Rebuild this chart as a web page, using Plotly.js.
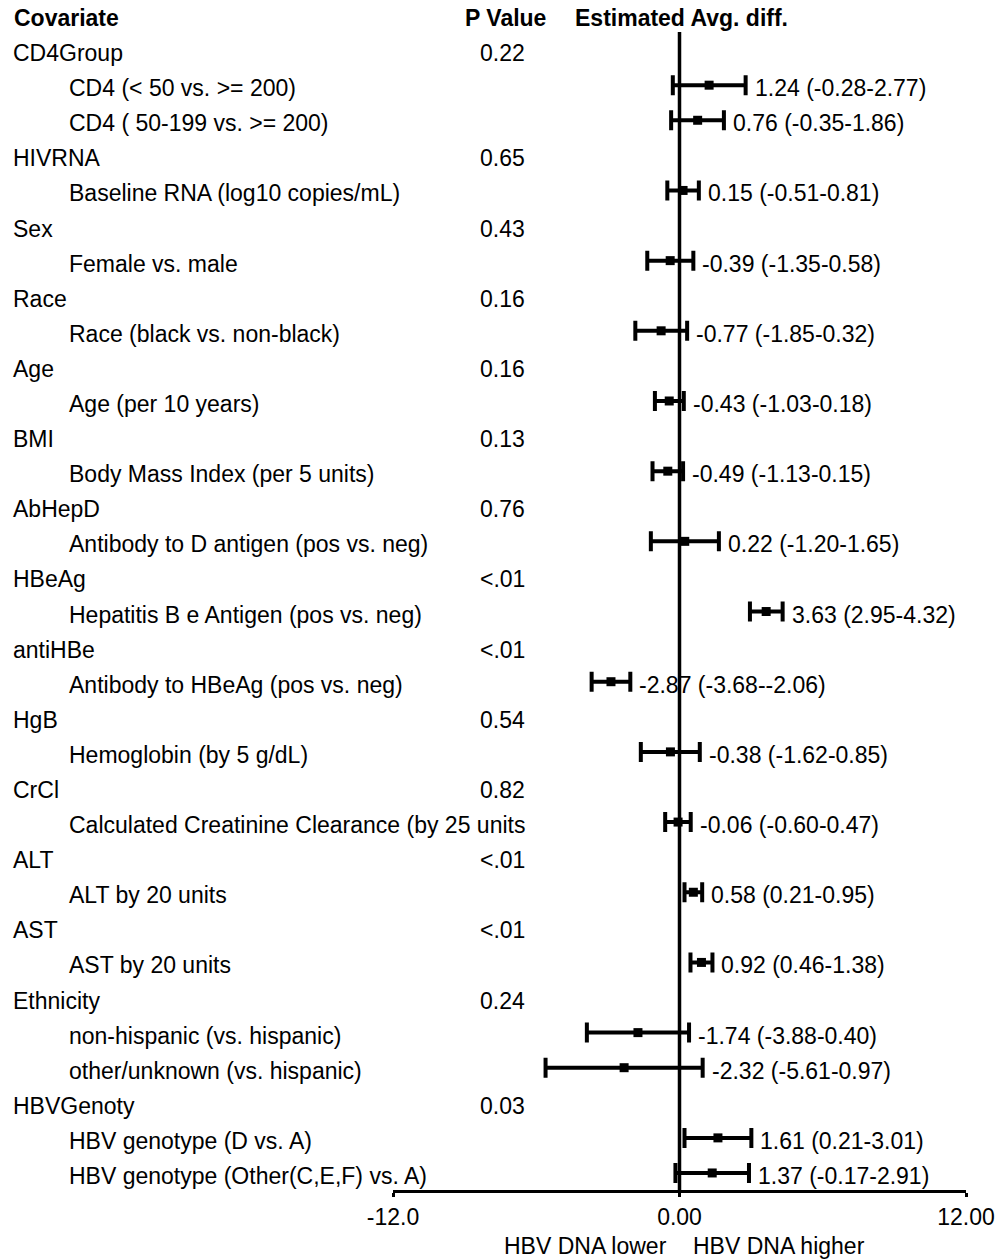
<!DOCTYPE html>
<html>
<head>
<meta charset="utf-8">
<script src="https://cdn.plot.ly/plotly-3.0.1.min.js"></script>
<style>html,body{margin:0;padding:0;background:#fff;}#chart{width:1000px;height:1259px;}</style>
</head>
<body>
<div id="chart"></div>
<script>
// ---- data ----
var rowLabels = [
  "CD4Group", "CD4 (< 50 vs. >= 200)", "CD4 ( 50-199 vs. >= 200)",
  "HIVRNA", "Baseline RNA (log10 copies/mL)",
  "Sex", "Female vs. male",
  "Race", "Race (black vs. non-black)",
  "Age", "Age (per 10 years)",
  "BMI", "Body Mass Index (per 5 units)",
  "AbHepD", "Antibody to D antigen (pos vs. neg)",
  "HBeAg", "Hepatitis B e Antigen (pos vs. neg)",
  "antiHBe", "Antibody to HBeAg (pos vs. neg)",
  "HgB", "Hemoglobin (by 5 g/dL)",
  "CrCl", "Calculated Creatinine Clearance (by 25 units",
  "ALT", "ALT by 20 units",
  "AST", "AST by 20 units",
  "Ethnicity", "non-hispanic (vs. hispanic)", "other/unknown (vs. hispanic)",
  "HBVGenoty", "HBV genotype (D vs. A)", "HBV genotype (Other(C,E,F) vs. A)"
];
var rowIsGroup = [
  1,0,0, 1,0, 1,0, 1,0, 1,0, 1,0, 1,0, 1,0, 1,0, 1,0, 1,0, 1,0, 1,0, 1,0,0, 1,0,0
];
var pValues = [
  "0.22","","", "0.65","", "0.43","", "0.16","", "0.16","", "0.13","", "0.76","",
  "<.01","", "<.01","", "0.54","", "0.82","", "<.01","", "<.01","", "0.24","","", "0.03","",""
];
var estimates = [
  null,1.24,0.76, null,0.15, null,-0.39, null,-0.77, null,-0.43, null,-0.49, null,0.22,
  null,3.63, null,-2.87, null,-0.38, null,-0.06, null,0.58, null,0.92, null,-1.74,-2.32, null,1.61,1.37
];
var lowerCI = [
  null,-0.28,-0.35, null,-0.51, null,-1.35, null,-1.85, null,-1.03, null,-1.13, null,-1.20,
  null,2.95, null,-3.68, null,-1.62, null,-0.60, null,0.21, null,0.46, null,-3.88,-5.61, null,0.21,-0.17
];
var upperCI = [
  null,2.77,1.86, null,0.81, null,0.58, null,0.32, null,0.18, null,0.15, null,1.65,
  null,4.32, null,-2.06, null,0.85, null,0.47, null,0.95, null,1.38, null,0.40,0.97, null,3.01,2.91
];
var headers = ["Covariate", "P Value", "Estimated Avg. diff."];
var tickValues = [-12, 0, 12];
var tickLabels = ["-12.0", "0.00", "12.00"];
var bottomLabels = ["HBV DNA lower", "HBV DNA higher"];

// ---- layout helpers ----
var FONT = "Liberation Sans, Arial, Helvetica, sans-serif";
var FS = 23;
var plotLeft = 393, plotWidth = 573;
function px2paper(px) { return (px - plotLeft) / plotWidth; }
function rowY(i) { return -i; }  // i: 0 header, 1.. rows

var xs = [], ys = [], ep = [], em = [];
var annotations = [];

// headers
annotations.push({xref:'paper', yref:'y', x:px2paper(12), y:rowY(0), xanchor:'left', yanchor:'middle', yshift:-3,
  text:'<b>'+headers[0]+'</b>', showarrow:false, font:{family:FONT, size:FS, color:'#000'}});
annotations.push({xref:'paper', yref:'y', x:px2paper(548), y:rowY(0), xanchor:'right', yanchor:'middle', yshift:-3,
  text:'<b>'+headers[1]+'</b>', showarrow:false, font:{family:FONT, size:FS, color:'#000'}});
annotations.push({xref:'paper', yref:'y', x:px2paper(573), y:rowY(0), xanchor:'left', yanchor:'middle', yshift:-3,
  text:'<b>'+headers[2]+'</b>', showarrow:false, font:{family:FONT, size:FS, color:'#000'}});

for (var k = 0; k < rowLabels.length; k++) {
  var i = k + 1;
  annotations.push({xref:'paper', yref:'y', x:px2paper(rowIsGroup[k] ? 11 : 67), y:rowY(i),
    xanchor:'left', yanchor:'middle', yshift:-3, text:rowLabels[k], showarrow:false,
    font:{family:FONT, size:FS, color:'#000'}});
  if (pValues[k]) {
    annotations.push({xref:'paper', yref:'y', x:px2paper(527), y:rowY(i),
      xanchor:'right', yanchor:'middle', yshift:-3, text:pValues[k], showarrow:false,
      font:{family:FONT, size:FS, color:'#000'}});
  }
  if (estimates[k] !== null) {
    xs.push(estimates[k]); ys.push(rowY(i));
    ep.push(upperCI[k] - estimates[k]); em.push(estimates[k] - lowerCI[k]);
    var txt = estimates[k].toFixed(2) + ' (' + lowerCI[k].toFixed(2) + '-' + upperCI[k].toFixed(2) + ')';
    annotations.push({xref:'x', yref:'y', x:upperCI[k], y:rowY(i), xanchor:'left', yanchor:'middle',
      xshift:7, yshift:-3, text:txt, showarrow:false, font:{family:FONT, size:FS, color:'#000'}});
  }
}

annotations.push({xref:'x', yref:'paper', x:0, y:0, xanchor:'right', yanchor:'middle', xshift:-11, yshift:-56,
  text:bottomLabels[0], showarrow:false, font:{family:FONT, size:FS, color:'#000'}});
annotations.push({xref:'x', yref:'paper', x:0, y:0, xanchor:'left', yanchor:'middle', xshift:11, yshift:-56,
  text:bottomLabels[1], showarrow:false, font:{family:FONT, size:FS, color:'#000'}});

var rowTop = 15, rowStep = 35.09, axisBottomPx = 1190;
var yMin = -((axisBottomPx - rowTop) / rowStep);
var yMax = rowTop / rowStep;
var vTop = -((32 - rowTop) / rowStep);

var trace = {
  type:'scatter', mode:'markers', x:xs, y:ys,
  marker:{symbol:'square', size:9, color:'#000'},
  error_x:{type:'data', symmetric:false, array:ep, arrayminus:em, color:'#000', thickness:4, width:10},
  hoverinfo:'none', cliponaxis:false
};

var layout = {
  width:1000, height:1259,
  margin:{l:plotLeft, r:1000-plotLeft-plotWidth, t:0, b:1259-axisBottomPx},
  paper_bgcolor:'#fff', plot_bgcolor:'#fff',
  showlegend:false,
  font:{family:FONT, size:FS, color:'#000'},
  xaxis:{range:[-12,12], showgrid:false, zeroline:false, showline:true, linewidth:3, linecolor:'#000',
    ticks:'outside', ticklen:4, tickwidth:3, tickcolor:'#000',
    tickmode:'array', tickvals:tickValues, ticktext:tickLabels,
    tickfont:{family:FONT, size:FS, color:'#000'}, fixedrange:true},
  yaxis:{range:[yMin, yMax], visible:false, fixedrange:true},
  shapes:[{type:'line', xref:'x', yref:'y', x0:0, x1:0, y0:vTop, y1:yMin, line:{color:'#000', width:3.5}}],
  annotations:annotations
};

Plotly.newPlot('chart', [trace], layout, {staticPlot:true});
</script>
</body>
</html>
